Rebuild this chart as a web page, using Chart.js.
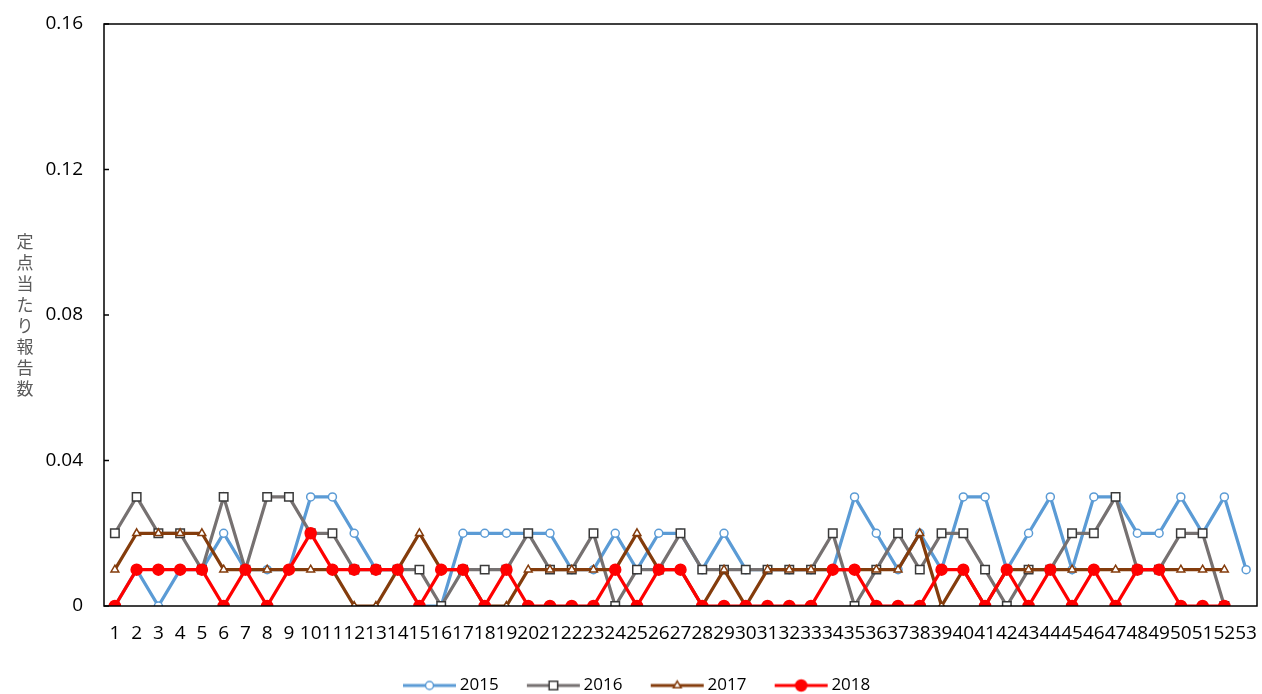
<!DOCTYPE html>
<html>
<head>
<meta charset="utf-8">
<script src="https://cdn.jsdelivr.net/npm/chart.js@4.4.1/dist/chart.umd.min.js"></script>
<style>
    html, body { margin: 0; padding: 0; background: #fff; }
    #wrap { width: 1262px; height: 694px; position: relative; }
</style>
</head>
<body>
<div id="wrap"><canvas id="chart" width="1262" height="694"></canvas></div>
<script>
const weeks = ["1","2","3","4","5","6","7","8","9","10","11","12","13","14","15","16","17","18","19","20",
    "21","22","23","24","25","26","27","28","29","30","31","32","33","34","35","36","37","38","39","40",
    "41","42","43","44","45","46","47","48","49","50","51","52","53"];

const y2015 = [0,0.01,0,0.01,0.01,0.02,0.01,0.01,0.01,0.03, 0.03,0.02,0.01,0.01,0,0,0.02,0.02,0.02,0.02,
    0.02,0.01,0.01,0.02,0.01,0.02,0.02,0.01,0.02,0.01, 0.01,0.01,0.01,0.01,0.03,0.02,0.01,0.02,0.01,0.03,
    0.03,0.01,0.02,0.03,0.01,0.03,0.03,0.02,0.02,0.03, 0.02,0.03,0.01];
const y2016 = [0.02,0.03,0.02,0.02,0.01,0.03,0.01,0.03,0.03,0.02, 0.02,0.01,0.01,0.01,0.01,0,0.01,0.01,0.01,0.02,
    0.01,0.01,0.02,0,0.01,0.01,0.02,0.01,0.01,0.01, 0.01,0.01,0.01,0.02,0,0.01,0.02,0.01,0.02,0.02,
    0.01,0,0.01,0.01,0.02,0.02,0.03,0.01,0.01,0.02, 0.02,0];
const y2017 = [0.01,0.02,0.02,0.02,0.02,0.01,0.01,0.01,0.01,0.01, 0.01,0,0,0.01,0.02,0.01,0.01,0,0,0.01,
    0.01,0.01,0.01,0.01,0.02,0.01,0.01,0,0.01,0, 0.01,0.01,0.01,0.01,0.01,0.01,0.01,0.02,0,0.01,
    0,0.01,0.01,0.01,0.01,0.01,0.01,0.01,0.01,0.01, 0.01,0.01];
const y2018 = [0,0.01,0.01,0.01,0.01,0,0.01,0,0.01,0.02, 0.01,0.01,0.01,0.01,0,0.01,0.01,0,0.01,0,
    0,0,0,0.01,0,0.01,0.01,0,0,0, 0,0,0,0.01,0.01,0,0,0,0.01,0.01,
    0,0.01,0,0.01,0,0.01,0,0.01,0.01,0, 0,0];

const yTitle = "定点当たり報告数";
const FONT = "'Open Sans', sans-serif";

function series(label, data, color, style, radius, fill, border, order) {
    return {
        label, data, order,
        borderColor: color, borderWidth: 3.25, tension: 0,
        pointStyle: style, pointRadius: radius, pointHoverRadius: radius,
        pointBackgroundColor: fill, pointBorderColor: border, pointBorderWidth: 1.5
    };
}

const datasets = [
    series("2015", y2015, "#5B9BD5", "circle", 4, "#ffffff", "#5B9BD5", 4),
    series("2016", y2016, "#767171", "rect", 6, "#ffffff", "#3a3a3a", 3),
    series("2017", y2017, "#843C0C", "triangle", 4.5, "#ffffff", "#843C0C", 2),
    series("2018", y2018, "#FF0000", "circle", 5.5, "#FF0000", "#FF0000", 1)
];

// legend sample: line with marker, drawn in the right part of a wider image
const SAMPLE_W = 76, SAMPLE_LINE = 55;
function legendSample(ds) {
    const c = document.createElement("canvas");
    c.width = SAMPLE_W; c.height = 16;
    const ctx = c.getContext("2d");
    const x0 = SAMPLE_W - SAMPLE_LINE, mid = x0 + SAMPLE_LINE / 2;
    ctx.strokeStyle = ds.borderColor;
    ctx.lineWidth = 3;
    ctx.beginPath(); ctx.moveTo(x0 + 1, 8); ctx.lineTo(SAMPLE_W - 1, 8); ctx.stroke();
    ctx.fillStyle = ds.pointBackgroundColor;
    ctx.strokeStyle = ds.pointBorderColor;
    ctx.lineWidth = 1.5;
    Chart.helpers.drawPoint(ctx, {pointStyle: ds.pointStyle, radius: ds.pointRadius, rotation: 0, borderWidth: 1.5}, mid, 8);
    return c;
}

const frame = {
    id: "frame",
    afterDatasetsDraw(chart) {
        const {ctx, chartArea: a, scales} = chart;
        ctx.save();
        ctx.strokeStyle = "#000";
        ctx.lineWidth = 1.5;
        ctx.strokeRect(a.left, a.top, a.right - a.left, a.bottom - a.top);
        scales.y.ticks.forEach(t => {
            const y = scales.y.getPixelForValue(t.value);
            ctx.beginPath(); ctx.moveTo(a.left, y); ctx.lineTo(a.left + 5, y); ctx.stroke();
        });
        ctx.restore();
    },
    afterDraw(chart) {
        const ctx = chart.ctx;
        ctx.save();
        ctx.fillStyle = "#595959";
        ctx.font = "17px 'Noto Sans CJK JP'";
        ctx.textAlign = "center";
        ctx.textBaseline = "middle";
        [...yTitle].forEach((ch, i) => ctx.fillText(ch, 25, 242 + i * 21));
        ctx.restore();
    }
};

new Chart(document.getElementById("chart"), {
    type: "line",
    data: { labels: weeks, datasets },
    options: {
        responsive: false,
        animation: false,
        layout: { autoPadding: false, padding: { top: 24, right: 5, left: 0, bottom: -10 } },
        plugins: {
            tooltip: { enabled: false },
            legend: {
                position: "bottom",
                labels: {
                    usePointStyle: true,
                    pointStyleWidth: 64.5,
                    padding: 12,
                    color: "#000",
                    font: { family: FONT, size: 17 },
                    generateLabels: chart => chart.data.datasets.map((ds, i) => ({
                        text: ds.label, pointStyle: legendSample(ds), datasetIndex: i,
                        fontColor: "#000", lineWidth: 0, strokeStyle: "transparent", fillStyle: "transparent"
                    }))
                }
            }
        },
        scales: {
            x: {
                offset: true,
                grid: { display: true, drawOnChartArea: false, drawTicks: true, tickLength: 16, tickColor: "transparent" },
                border: { display: false },
                ticks: { autoSkip: false, maxRotation: 0, minRotation: 0, padding: 0, color: "#000",
                    font: { family: FONT, size: 19 } },
                afterFit: s => { s.height = 59; s.paddingLeft = 0; s.paddingRight = 0; }
            },
            y: {
                min: 0, max: 0.16,
                grid: { display: true, drawOnChartArea: false, drawTicks: true, tickLength: 21, tickColor: "transparent" },
                border: { display: false },
                ticks: { stepSize: 0.04, padding: 0, color: "#000", font: { family: FONT, size: 19 },
                    callback: v => v === 0 ? "0" : v.toFixed(2) },
                afterFit: s => { s.width = 104; }
            }
        }
    },
    plugins: [frame]
});
</script>
</body>
</html>
